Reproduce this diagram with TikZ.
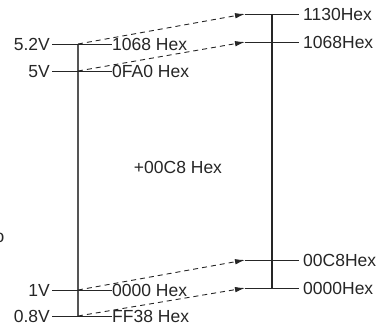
\documentclass[tikz,border=0pt]{standalone}
\usepackage{fontspec}
\setmainfont{Liberation Sans}
\usetikzlibrary{arrows.meta}
\definecolor{ink}{HTML}{262626}
\definecolor{axisgray}{HTML}{555555}
\begin{document}
\begin{tikzpicture}[x=1pt,y=-1pt,
  lbl/.style={inner sep=0pt,text height=12.5pt,text depth=0pt,font=\fontsize{17.5}{20}\selectfont,text=ink},
  tick/.style={draw=ink,line width=0.9pt},
  axis/.style={line width=1.2pt},
  maparrow/.style={draw=ink,line width=0.9pt,dash pattern=on 5pt off 4pt,-{Latex[length=10pt,width=5.5pt]}}]
\useasboundingbox (0,0) rectangle (381,329);
% left axis points
\coordinate (l52) at (78,44);
\coordinate (l50) at (78,71);
\coordinate (l10) at (78,290);
\coordinate (l08) at (78,316);
% right axis points
\coordinate (r1130) at (272,14);
\coordinate (r1068) at (272,42);
\coordinate (r00c8) at (272,260);
\coordinate (r0000) at (272,288);
% vertical axes
\draw[axis,draw=axisgray] (l52) -- (l08);
\draw[axis,draw=ink] (r1130) -- (r0000);
% left ticks and labels
\node[lbl,anchor=east] (v52) at (50,44) {5.2V};
\node[lbl,anchor=east] (v50) at (50,71) {5V};
\node[lbl,anchor=east] (v10) at (50,290) {1V};
\node[lbl,anchor=east] (v08) at (50,316) {0.8V};
\node[lbl,anchor=west] (h1068) at (112,44) {1068 Hex};
\node[lbl,anchor=west] (h0fa0) at (112,71) {0FA0 Hex};
\node[lbl,anchor=west] (h0000) at (112,290) {0000 Hex};
\node[lbl,anchor=west] (hff38) at (112,316) {FF38 Hex};
\draw[tick] (v52.east) ++(2,0) -- (h1068.west);
\draw[tick] (v50.east) ++(2,0) -- (h0fa0.west);
\draw[tick] (v10.east) ++(2,0) -- (h0000.west);
\draw[tick] (v08.east) ++(2,0) -- (hff38.west);
% right ticks and labels
\node[lbl,anchor=west] (o1130) at (303,14) {1130Hex};
\node[lbl,anchor=west] (o1068) at (303,42) {1068Hex};
\node[lbl,anchor=west] (o00c8) at (303,260) {00C8Hex};
\node[lbl,anchor=west] (o0000) at (303,288) {0000Hex};
\coordinate (t1130) at (245,14);
\coordinate (t1068) at (245,42);
\coordinate (t00c8) at (245,260);
\coordinate (t0000) at (245,288);
\draw[tick] (t1130) -- ([xshift=-4pt]o1130.west);
\draw[tick] (t1068) -- ([xshift=-4pt]o1068.west);
\draw[tick] (t00c8) -- ([xshift=-4pt]o00c8.west);
\draw[tick] (t0000) -- ([xshift=-4pt]o0000.west);
% mapping arrows
\draw[maparrow] (l52) -- (t1130);
\draw[maparrow] (l50) -- (t1068);
\draw[maparrow] (l10) -- (t00c8);
\draw[maparrow] (l08) -- (t0000);
% offset label
\node[lbl] (offset) at (178,167) {+00C8 Hex};
% clipped fragment at left edge
\node[lbl,anchor=east] (frag) at (4.5,236) {o};
\end{tikzpicture}
\end{document}
